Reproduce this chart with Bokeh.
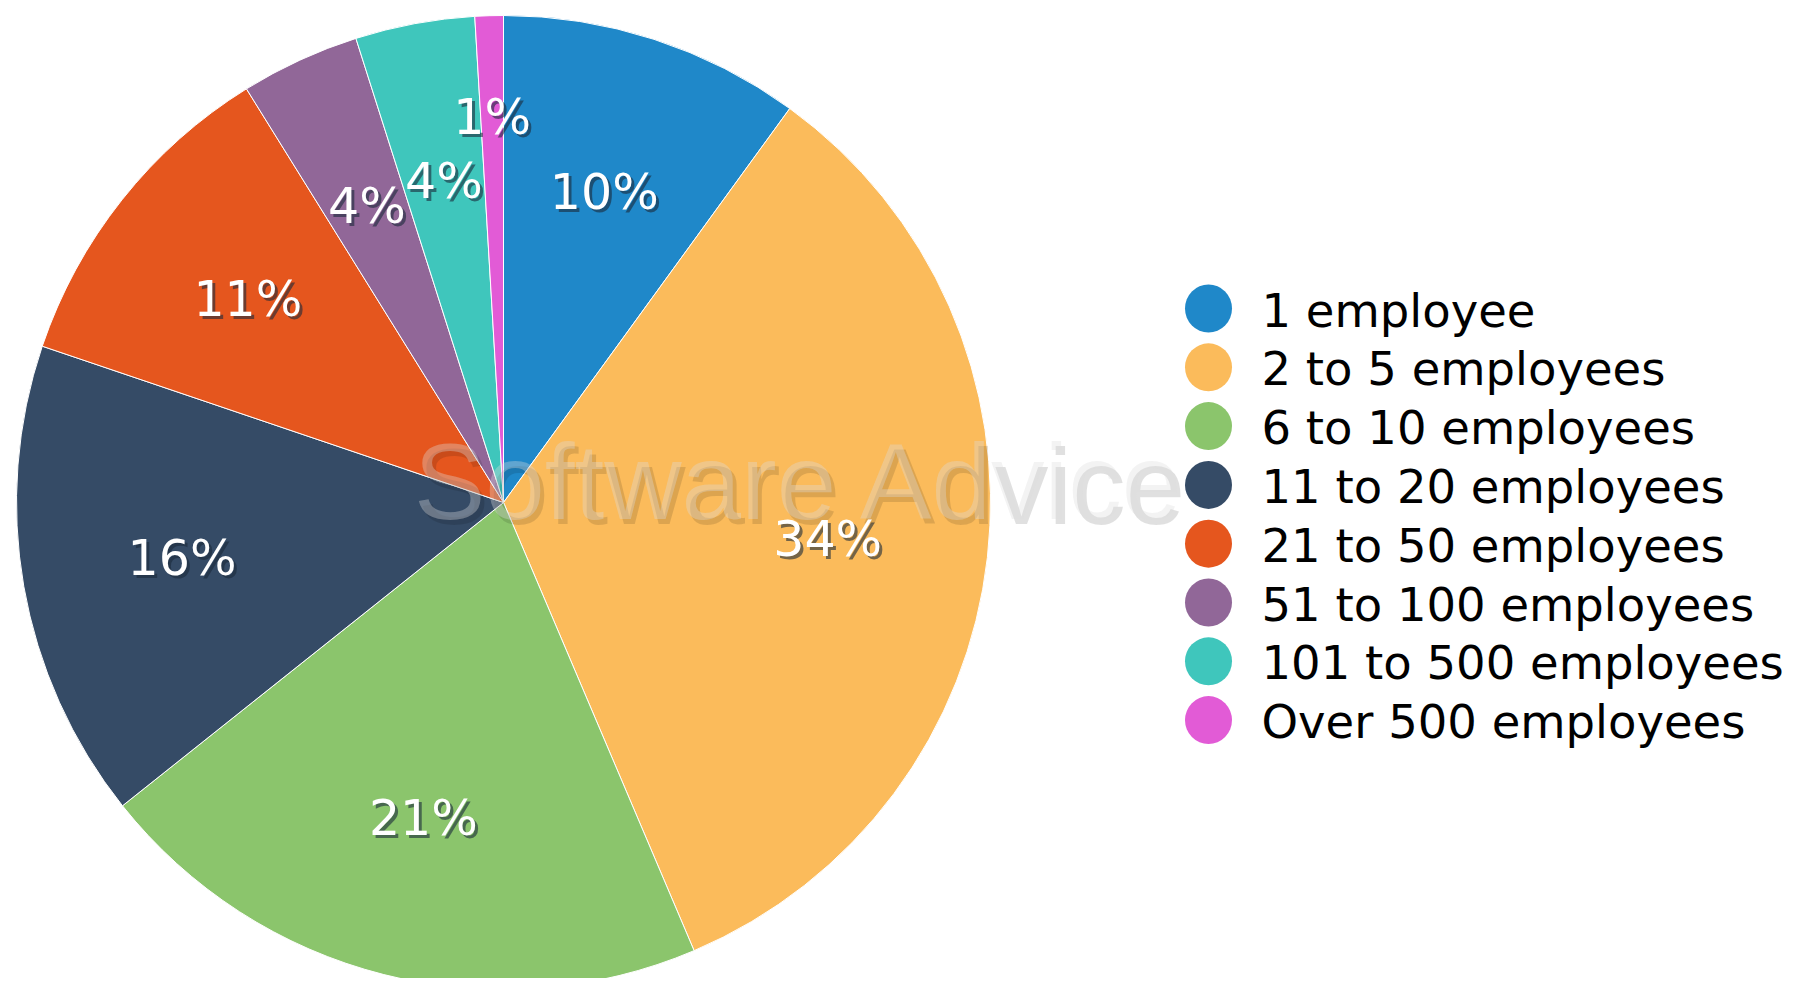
import math
from bokeh.plotting import figure
from bokeh.models import Range1d, ColumnDataSource
from bokeh.core.properties import value
from bokeh.embed import file_html
from bokeh.resources import INLINE

categories = ["1 employee", "2 to 5 employees", "6 to 10 employees", "11 to 20 employees",
              "21 to 50 employees", "51 to 100 employees", "101 to 500 employees", "Over 500 employees"]
shares = [10.0, 33.6, 20.7, 15.9, 10.95, 3.95, 3.96, 0.94]
labels = ["10%", "34%", "21%", "16%", "11%", "4%", "4%", "1%"]
colors = ["#1f88c9", "#fbbb5b", "#8bc56c", "#354b66", "#e5561e", "#916798", "#3fc6bc", "#e25bd6"]

W, H = 1796, 978
cx, cy, R = 503, 476, 487

p = figure(width=W, height=H, x_range=Range1d(0, W), y_range=Range1d(0, H),
           output_backend="svg", toolbar_location=None, min_border=0)
p.axis.visible = False
p.grid.visible = False
p.outline_line_color = None
p.background_fill_color = "white"

total = sum(shares)
starts, ends, lx, ly = [], [], [], []
cum = 0.0
for i, s in enumerate(shares):
    a0 = cum / total * 2 * math.pi
    cum += s
    a1 = cum / total * 2 * math.pi
    starts.append(math.pi / 2 - a0)
    ends.append(math.pi / 2 - a1)
    mid = (a0 + a1) / 2
    f = 0.79 if s < 2 else 0.67
    lx.append(cx + f * R * math.sin(mid))
    ly.append(cy + f * R * math.cos(mid))

src = ColumnDataSource(dict(start=starts, end=ends, color=colors, cat=categories))
p.wedge(x=cx, y=cy, radius=R, start_angle="start", end_angle="end", direction="clock",
        fill_color="color", line_color="white", line_width=1, source=src)

# watermark
p.text(x=[800], y=[497], text=["Software Advice"], text_font=value("Liberation Sans"),
       text_font_size="107px", text_color="#000000", text_alpha=0.12,
       text_align="center", text_baseline="middle", x_offset=4, y_offset=5)
p.text(x=[800], y=[497], text=["Software Advice"], text_font=value("Liberation Sans"),
       text_font_size="107px", text_color="#dddddd", text_alpha=0.35,
       text_align="center", text_baseline="middle")

lsrc = ColumnDataSource(dict(x=lx, y=ly, t=labels))
p.text(x="x", y="y", text="t", source=lsrc, text_font=value("DejaVu Sans"),
       text_font_size="49px", text_color="#1a2a3a", text_alpha=0.6,
       text_align="center", text_baseline="middle", x_offset=3, y_offset=3)
p.text(x="x", y="y", text="t", source=lsrc, text_font=value("DejaVu Sans"),
       text_font_size="49px", text_color="white",
       text_align="center", text_baseline="middle")

# legend
row0, step = 978 - 308, 58.8
ry = [row0 - i * step for i in range(len(categories))]
gsrc = ColumnDataSource(dict(y=ry, color=colors, cat=categories))
p.ellipse(x=1208, y="y", width=47, height=48, fill_color="color", line_color=None, source=gsrc)
p.text(x=1261, y="y", text="cat", source=gsrc, text_font=value("DejaVu Sans"),
       text_font_size="46.5px", text_color="black", text_baseline="middle", y_offset=2)

open("out.html", "w").write(file_html(p, INLINE))
